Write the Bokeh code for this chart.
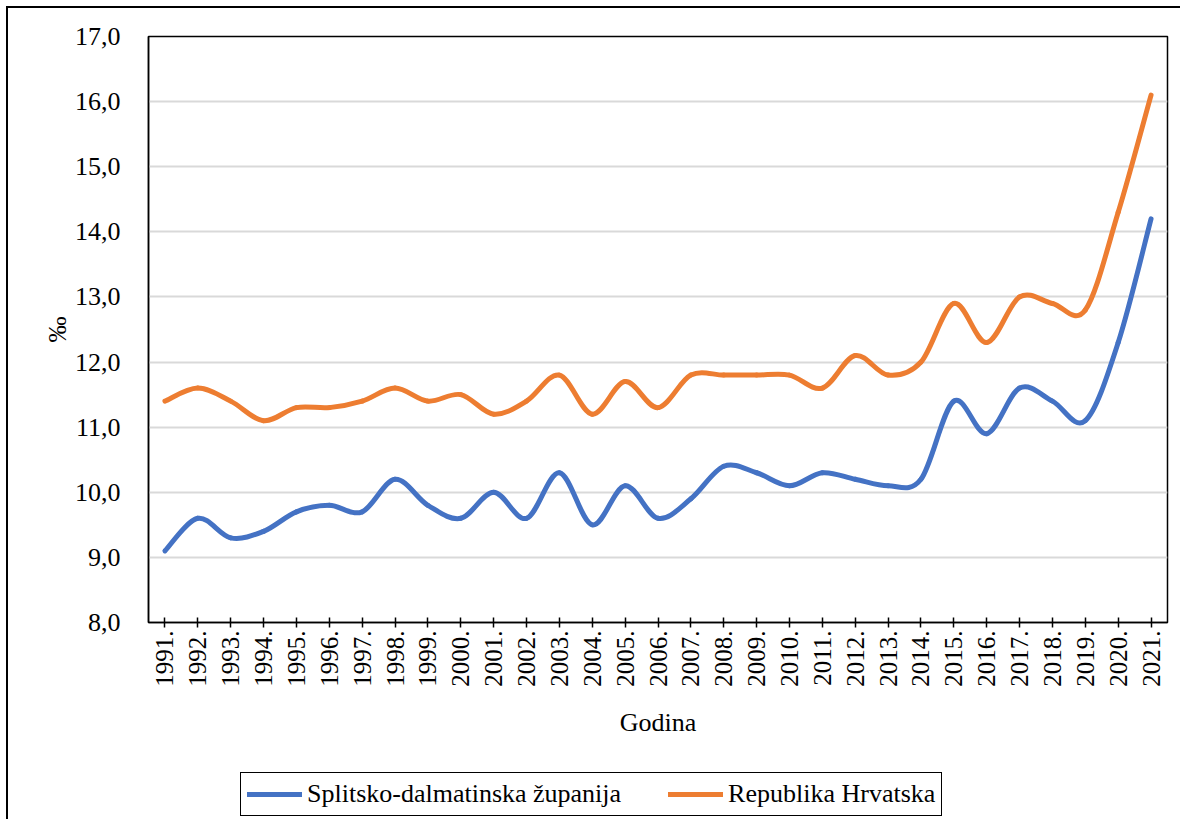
import numpy as np
from bokeh.plotting import figure
from bokeh.layouts import column
from bokeh.models import FixedTicker, Range1d, Legend, LegendItem
from bokeh.embed import file_html
from bokeh.resources import INLINE

years = ["1991.", "1992.", "1993.", "1994.", "1995.", "1996.", "1997.", "1998.",
         "1999.", "2000.", "2001.", "2002.", "2003.", "2004.", "2005.", "2006.",
         "2007.", "2008.", "2009.", "2010.", "2011.", "2012.", "2013.", "2014.",
         "2015.", "2016.", "2017.", "2018.", "2019.", "2020.", "2021."]

splitsko = [9.1, 9.6, 9.3, 9.4, 9.7, 9.8, 9.7, 10.2, 9.8, 9.6, 10.0, 9.6, 10.3, 9.5,
            10.1, 9.6, 9.9, 10.4, 10.3, 10.1, 10.3, 10.2, 10.1, 10.2, 11.4, 10.9,
            11.6, 11.4, 11.1, 12.3, 14.2]

hrvatska = [11.4, 11.6, 11.4, 11.1, 11.3, 11.3, 11.4, 11.6, 11.4, 11.5, 11.2, 11.4,
            11.8, 11.2, 11.7, 11.3, 11.8, 11.8, 11.8, 11.8, 11.6, 12.1, 11.8, 12.0,
            12.9, 12.3, 13.0, 12.9, 12.8, 14.3, 16.1]

y_ticks = [8, 9, 10, 11, 12, 13, 14, 15, 16, 17]
y_tick_labels = ["8,0", "9,0", "10,0", "11,0", "12,0", "13,0", "14,0", "15,0", "16,0", "17,0"]

series_names = ["Splitsko-dalmatinska županija", "Republika Hrvatska"]
series_colors = ["#4472C4", "#ED7D31"]

FONT = "Liberation Serif"
LINE_W = 5


def smooth_segments(vals):
    """Catmull-Rom style Bezier segments through the data points (Excel-like smoothing)."""
    y = np.asarray(vals, dtype=float)
    n = len(y)
    x = np.arange(n, dtype=float)
    xp = np.concatenate([[x[0]], x, [x[-1]]])
    yp = np.concatenate([[y[0]], y, [y[-1]]])
    x0, y0 = xp[1:n], yp[1:n]
    x1, y1 = xp[2:n + 1], yp[2:n + 1]
    cx0 = x0 + (xp[2:n + 1] - xp[0:n - 1]) / 6.0
    cy0 = y0 + (yp[2:n + 1] - yp[0:n - 1]) / 6.0
    cx1 = x1 - (xp[3:n + 2] - xp[1:n]) / 6.0
    cy1 = y1 - (yp[3:n + 2] - yp[1:n]) / 6.0
    return dict(x0=x0, y0=y0, x1=x1, y1=y1, cx0=cx0, cy0=cy0, cx1=cx1, cy1=cy1)


p = figure(width=1172, height=741, output_backend="svg", toolbar_location=None,
           x_range=Range1d(-0.5, len(years) - 0.5), y_range=Range1d(8, 17),
           min_border_left=140, min_border_right=13, min_border_top=28,
           min_border_bottom=127)

p.outline_line_color = "black"
p.outline_line_width = 1.5
p.background_fill_color = "white"
p.border_fill_color = "white"

for vals, color in zip([splitsko, hrvatska], series_colors):
    seg = smooth_segments(vals)
    p.bezier(x0=seg["x0"], y0=seg["y0"], x1=seg["x1"], y1=seg["y1"],
             cx0=seg["cx0"], cy0=seg["cy0"], cx1=seg["cx1"], cy1=seg["cy1"],
             line_color=color, line_width=LINE_W, line_cap="round", line_join="round")

# X axis
p.xaxis.ticker = FixedTicker(ticks=list(range(len(years))))
p.xaxis.major_label_overrides = {i: lab for i, lab in enumerate(years)}
p.xaxis.major_label_orientation = np.pi / 2
p.xaxis.major_label_text_font = FONT
p.xaxis.major_label_text_font_size = "25px"
p.xaxis.major_label_text_color = "black"
p.xaxis.major_label_standoff = 3
p.xaxis.major_tick_in = 5
p.xaxis.major_tick_out = 5
p.xaxis.major_tick_line_color = "black"
p.xaxis.major_tick_line_width = 1.5
p.xaxis.minor_tick_line_color = None
p.xaxis.axis_line_color = "black"
p.xaxis.axis_line_width = 1.5
p.xaxis.axis_label = "Godina"
p.xaxis.axis_label_text_font = FONT
p.xaxis.axis_label_text_font_size = "26px"
p.xaxis.axis_label_text_font_style = "normal"
p.xaxis.axis_label_text_color = "black"
p.xaxis.axis_label_standoff = 18

# Y axis
p.yaxis.ticker = FixedTicker(ticks=y_ticks)
p.yaxis.major_label_overrides = {t: lab for t, lab in zip(y_ticks, y_tick_labels)}
p.yaxis.major_label_text_font = FONT
p.yaxis.major_label_text_font_size = "26px"
p.yaxis.major_label_text_color = "black"
p.yaxis.major_label_standoff = 22
p.yaxis.major_tick_line_color = None
p.yaxis.minor_tick_line_color = None
p.yaxis.axis_line_color = "black"
p.yaxis.axis_line_width = 1.5
p.yaxis.axis_label = "‰"
p.yaxis.axis_label_text_font = FONT
p.yaxis.axis_label_text_font_size = "26px"
p.yaxis.axis_label_text_font_style = "normal"
p.yaxis.axis_label_text_color = "black"
p.yaxis.axis_label_standoff = 0

# Grid
p.xgrid.visible = False
p.ygrid.ticker = FixedTicker(ticks=y_ticks)
p.ygrid.grid_line_color = "#d9d9d9"
p.ygrid.grid_line_width = 2

# Legend strip below the chart (series drawn out of view; only the legend shows)
lg = figure(width=1172, height=70, output_backend="svg", toolbar_location=None,
            x_axis_type=None, y_axis_type=None, min_border=0,
            x_range=Range1d(-0.5, len(years) - 0.5), y_range=Range1d(100, 101))
lg.outline_line_color = None
lg.xgrid.visible = False
lg.ygrid.visible = False
lg.background_fill_color = "white"
lg.border_fill_color = "white"
legend_renderers = [lg.line(x=list(range(len(years))), y=vals, line_color=c,
                            line_width=LINE_W, line_cap="round")
                    for vals, c in zip([splitsko, hrvatska], series_colors)]

legend = Legend(items=[LegendItem(label=n, renderers=[r]) for n, r in zip(series_names, legend_renderers)],
                orientation="horizontal", location=(92, 3))
legend.label_text_font = FONT
legend.label_text_font_size = "26px"
legend.label_text_color = "black"
legend.glyph_width = 55
legend.glyph_height = 26
legend.label_height = 26
legend.label_standoff = 5
legend.spacing = 47
legend.padding = 6
legend.margin = 0
legend.border_line_color = "black"
legend.border_line_alpha = 1.0
legend.border_line_width = 1.5
legend.background_fill_color = "white"
legend.background_fill_alpha = 1.0
lg.add_layout(legend)

layout = column(p, lg, spacing=0)
layout.styles = {"border-top": "2px solid black", "border-left": "2px solid black",
                 "margin-left": "6px", "margin-top": "6px"}

open("out.html", "w").write(file_html(layout, INLINE))
